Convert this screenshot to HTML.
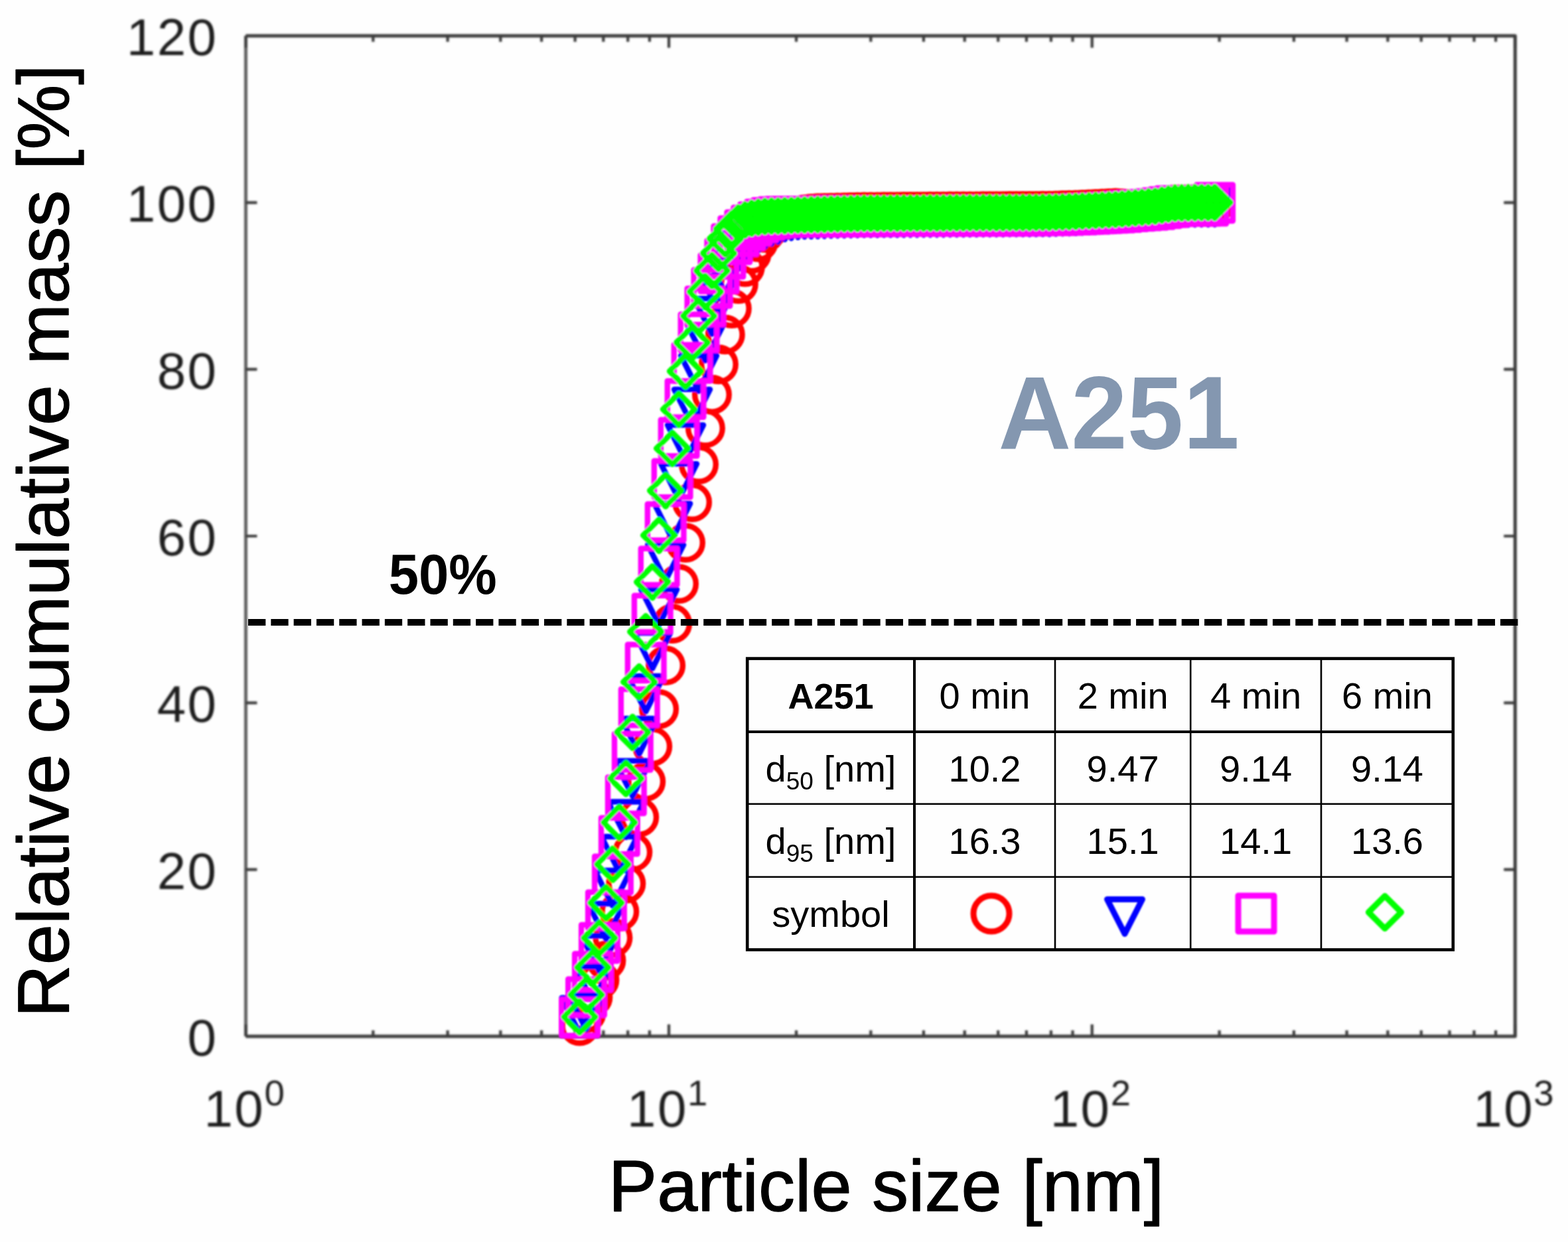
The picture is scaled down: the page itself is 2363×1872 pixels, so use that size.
<!DOCTYPE html>
<html lang="en"><head><meta charset="utf-8"><title>A251 relative cumulative mass vs particle size</title>
<style>
html,body{margin:0;padding:0;background:#fefefe;}
body{width:2363px;height:1872px;overflow:hidden;position:relative;font-family:"Liberation Sans",Arial,Helvetica,sans-serif;}
svg{position:absolute;left:0;top:0;display:block}
text{font-family:"Liberation Sans",Arial,Helvetica,sans-serif}
.tick{font-size:78px;fill:#1c1c1c}
.sup{font-size:54.5px;fill:#1c1c1c}
.axlab{font-size:110px;fill:#000;stroke:#000;stroke-width:1.3px;stroke-linejoin:round}
#tbl{position:absolute;left:1126px;top:993.2px;border-collapse:collapse;table-layout:fixed;font-size:56px;color:#000;line-height:1}
#tbl td{padding:0;text-align:center;vertical-align:middle;white-space:nowrap;overflow:hidden}
#tbl sub{font-size:37px;vertical-align:baseline;position:relative;top:12px}
#tbl svg{position:static;display:inline-block;vertical-align:middle}
</style></head><body>
<svg width="2363" height="1872" viewBox="0 0 2363 1872">
<defs><filter id="bl" x="-5%" y="-5%" width="110%" height="110%"><feGaussianBlur stdDeviation="1.4"/></filter><filter id="bm" x="-5%" y="-5%" width="110%" height="110%"><feGaussianBlur stdDeviation="0.9"/></filter><filter id="bs" filterUnits="userSpaceOnUse" x="-50" y="-50" width="100" height="100"><feGaussianBlur stdDeviation="1.0"/></filter></defs>
<rect x="0" y="0" width="2363" height="1872" fill="#fefefe"/>
<g filter="url(#bl)">
<g fill="none" stroke="#3a3a3a" stroke-width="5" stroke-linecap="butt">
<path d="M370.4 54.0H2283.3V1562.0H370.4" stroke-linejoin="round"/>
<path d="M370.4 1562.0V54.0" stroke="#5e5e5e"/>
<path d="M370.4 54.0v18M370.4 1562.0v-18M562.3 54.0v9M562.3 1562.0v-9M674.6 54.0v9M674.6 1562.0v-9M754.3 54.0v9M754.3 1562.0v-9M816.1 54.0v9M816.1 1562.0v-9M866.6 54.0v9M866.6 1562.0v-9M909.3 54.0v9M909.3 1562.0v-9M946.2 54.0v9M946.2 1562.0v-9M978.9 54.0v9M978.9 1562.0v-9M1008.0 54.0v18M1008.0 1562.0v-18M1200.0 54.0v9M1200.0 1562.0v-9M1312.3 54.0v9M1312.3 1562.0v-9M1391.9 54.0v9M1391.9 1562.0v-9M1453.7 54.0v9M1453.7 1562.0v-9M1504.2 54.0v9M1504.2 1562.0v-9M1546.9 54.0v9M1546.9 1562.0v-9M1583.9 54.0v9M1583.9 1562.0v-9M1616.5 54.0v9M1616.5 1562.0v-9M1645.7 54.0v18M1645.7 1562.0v-18M1837.6 54.0v9M1837.6 1562.0v-9M1949.9 54.0v9M1949.9 1562.0v-9M2029.6 54.0v9M2029.6 1562.0v-9M2091.4 54.0v9M2091.4 1562.0v-9M2141.8 54.0v9M2141.8 1562.0v-9M2184.5 54.0v9M2184.5 1562.0v-9M2221.5 54.0v9M2221.5 1562.0v-9M2254.1 54.0v9M2254.1 1562.0v-9M2283.3 54.0v18M2283.3 1562.0v-18M370.4 1562.0h17M2283.3 1562.0h-17M370.4 1310.7h17M2283.3 1310.7h-17M370.4 1059.3h17M2283.3 1059.3h-17M370.4 808.0h17M2283.3 808.0h-17M370.4 556.7h17M2283.3 556.7h-17M370.4 305.3h17M2283.3 305.3h-17M370.4 54.0h17M2283.3 54.0h-17" stroke-width="4.2"/>
</g>
<text class="tick" x="328.5" y="1591.0" text-anchor="end" letter-spacing="2.5">0</text>
<text class="tick" x="328.5" y="1339.7" text-anchor="end" letter-spacing="2.5">20</text>
<text class="tick" x="328.5" y="1088.3" text-anchor="end" letter-spacing="2.5">40</text>
<text class="tick" x="328.5" y="837.0" text-anchor="end" letter-spacing="2.5">60</text>
<text class="tick" x="328.5" y="585.7" text-anchor="end" letter-spacing="2.5">80</text>
<text class="tick" x="328.5" y="334.3" text-anchor="end" letter-spacing="2.5">100</text>
<text class="tick" x="328.5" y="83.0" text-anchor="end" letter-spacing="2.5">120</text>
<text class="tick" x="307.4" y="1697.5" letter-spacing="2.5">10</text>
<text class="sup" x="398.4" y="1666">0</text>
<text class="tick" x="945.0" y="1697.5" letter-spacing="2.5">10</text>
<text class="sup" x="1036.0" y="1666">1</text>
<text class="tick" x="1582.7" y="1697.5" letter-spacing="2.5">10</text>
<text class="sup" x="1673.7" y="1666">2</text>
<text class="tick" x="2220.3" y="1697.5" letter-spacing="2.5">10</text>
<text class="sup" x="2311.3" y="1666">3</text>
</g>
<g filter="url(#bm)" fill="none" stroke-linejoin="round">
<g stroke="#ff0000" stroke-width="8.4">
<circle cx="873.5" cy="1546.5" r="25.8"/><circle cx="883.5" cy="1527.0" r="25.8"/><circle cx="893.4" cy="1503.0" r="25.8"/><circle cx="903.4" cy="1477.0" r="25.8"/><circle cx="913.4" cy="1447.7" r="25.8"/><circle cx="923.4" cy="1413.5" r="25.8"/><circle cx="933.3" cy="1374.0" r="25.8"/><circle cx="943.3" cy="1331.8" r="25.8"/><circle cx="953.3" cy="1284.4" r="25.8"/><circle cx="963.2" cy="1231.7" r="25.8"/><circle cx="973.2" cy="1178.0" r="25.8"/><circle cx="983.2" cy="1125.0" r="25.8"/><circle cx="993.1" cy="1068.7" r="25.8"/><circle cx="1003.1" cy="1003.0" r="25.8"/><circle cx="1013.1" cy="940.0" r="25.8"/><circle cx="1023.0" cy="880.0" r="25.8"/><circle cx="1033.0" cy="818.0" r="25.8"/><circle cx="1043.0" cy="757.0" r="25.8"/><circle cx="1053.0" cy="700.0" r="25.8"/><circle cx="1062.9" cy="645.4" r="25.8"/><circle cx="1072.9" cy="594.8" r="25.8"/><circle cx="1082.9" cy="549.3" r="25.8"/><circle cx="1092.8" cy="504.3" r="25.8"/><circle cx="1102.8" cy="465.0" r="25.8"/><circle cx="1112.8" cy="428.0" r="25.8"/><circle cx="1122.8" cy="402.5" r="25.8"/><circle cx="1132.7" cy="382.5" r="25.8"/><circle cx="1142.7" cy="365.0" r="25.8"/><circle cx="1152.7" cy="351.0" r="25.8"/><circle cx="1162.6" cy="341.0" r="25.8"/><circle cx="1172.6" cy="335.0" r="25.8"/><circle cx="1182.6" cy="331.0" r="25.8"/><circle cx="1192.5" cy="328.0" r="25.8"/><circle cx="1202.5" cy="325.1" r="25.8"/><circle cx="1212.5" cy="323.3" r="25.8"/><circle cx="1222.5" cy="322.0" r="25.8"/><circle cx="1232.4" cy="321.3" r="25.8"/><circle cx="1242.4" cy="321.0" r="25.8"/><circle cx="1252.4" cy="320.7" r="25.8"/><circle cx="1262.3" cy="320.4" r="25.8"/><circle cx="1272.3" cy="320.2" r="25.8"/><circle cx="1282.3" cy="319.9" r="25.8"/><circle cx="1292.2" cy="319.7" r="25.8"/><circle cx="1302.2" cy="319.5" r="25.8"/><circle cx="1312.2" cy="319.5" r="25.8"/><circle cx="1322.2" cy="319.4" r="25.8"/><circle cx="1332.1" cy="319.3" r="25.8"/><circle cx="1342.1" cy="319.3" r="25.8"/><circle cx="1352.1" cy="319.2" r="25.8"/><circle cx="1362.0" cy="319.1" r="25.8"/><circle cx="1372.0" cy="319.0" r="25.8"/><circle cx="1382.0" cy="319.0" r="25.8"/><circle cx="1391.9" cy="318.9" r="25.8"/><circle cx="1401.9" cy="318.8" r="25.8"/><circle cx="1411.9" cy="318.8" r="25.8"/><circle cx="1421.8" cy="318.7" r="25.8"/><circle cx="1431.8" cy="318.6" r="25.8"/><circle cx="1441.8" cy="318.6" r="25.8"/><circle cx="1451.8" cy="318.5" r="25.8"/><circle cx="1461.7" cy="318.4" r="25.8"/><circle cx="1471.7" cy="318.4" r="25.8"/><circle cx="1481.7" cy="318.3" r="25.8"/><circle cx="1491.6" cy="318.3" r="25.8"/><circle cx="1501.6" cy="318.2" r="25.8"/><circle cx="1511.6" cy="318.2" r="25.8"/><circle cx="1521.6" cy="318.1" r="25.8"/><circle cx="1531.5" cy="318.1" r="25.8"/><circle cx="1541.5" cy="318.0" r="25.8"/><circle cx="1551.5" cy="318.0" r="25.8"/><circle cx="1561.4" cy="317.9" r="25.8"/><circle cx="1571.4" cy="317.8" r="25.8"/><circle cx="1581.4" cy="317.8" r="25.8"/><circle cx="1591.3" cy="317.4" r="25.8"/><circle cx="1601.3" cy="317.1" r="25.8"/><circle cx="1611.3" cy="316.8" r="25.8"/><circle cx="1621.2" cy="316.4" r="25.8"/><circle cx="1631.2" cy="315.9" r="25.8"/><circle cx="1641.2" cy="315.4" r="25.8"/><circle cx="1651.2" cy="314.9" r="25.8"/><circle cx="1661.1" cy="314.4" r="25.8"/><circle cx="1671.1" cy="313.9" r="25.8"/><circle cx="1681.1" cy="313.6" r="25.8"/><circle cx="1691.0" cy="314.2" r="25.8"/><circle cx="1701.0" cy="314.9" r="25.8"/><circle cx="1711.0" cy="315.4" r="25.8"/><circle cx="1721.0" cy="314.6" r="25.8"/><circle cx="1730.9" cy="313.8" r="25.8"/><circle cx="1740.9" cy="312.9" r="25.8"/><circle cx="1750.9" cy="311.3" r="25.8"/><circle cx="1760.8" cy="309.7" r="25.8"/><circle cx="1770.8" cy="308.3" r="25.8"/><circle cx="1780.8" cy="308.0" r="25.8"/><circle cx="1790.7" cy="307.7" r="25.8"/><circle cx="1800.7" cy="307.5" r="25.8"/><circle cx="1810.7" cy="307.4" r="25.8"/><circle cx="1820.7" cy="307.4" r="25.8"/><circle cx="1830.6" cy="307.3" r="25.8"/>
</g>
<g stroke="#0000ff" stroke-width="8.4">
<path d="M846.5 1504.0H900.5L873.5 1557.5Z"/><path d="M856.5 1498.4H910.5L883.5 1551.9Z"/><path d="M866.4 1456.9H920.4L893.4 1510.4Z"/><path d="M876.4 1410.5H930.4L903.4 1464.0Z"/><path d="M886.4 1362.0H940.4L913.4 1415.5Z"/><path d="M896.4 1312.0H950.4L923.4 1365.5Z"/><path d="M906.3 1261.0H960.3L933.3 1314.5Z"/><path d="M916.3 1208.5H970.3L943.3 1262.0Z"/><path d="M926.3 1146.7H980.3L953.3 1200.2Z"/><path d="M936.2 1083.0H990.2L963.2 1136.5Z"/><path d="M946.2 1019.0H1000.2L973.2 1072.5Z"/><path d="M956.2 954.0H1010.2L983.2 1007.5Z"/><path d="M966.1 888.5H1020.1L993.1 942.0Z"/><path d="M976.1 821.1H1030.1L1003.1 874.6Z"/><path d="M986.1 759.0H1040.1L1013.1 812.5Z"/><path d="M996.0 699.1H1050.0L1023.0 752.6Z"/><path d="M1006.0 640.6H1060.0L1033.0 694.1Z"/><path d="M1016.0 586.9H1070.0L1043.0 640.4Z"/><path d="M1026.0 536.0H1080.0L1053.0 589.5Z"/><path d="M1035.9 490.0H1089.9L1062.9 543.5Z"/><path d="M1045.9 450.0H1099.9L1072.9 503.5Z"/><path d="M1055.9 416.0H1109.9L1082.9 469.5Z"/><path d="M1065.8 388.0H1119.8L1092.8 441.5Z"/><path d="M1075.8 367.0H1129.8L1102.8 420.5Z"/><path d="M1085.8 352.0H1139.8L1112.8 405.5Z"/><path d="M1095.8 340.0H1149.8L1122.8 393.5Z"/><path d="M1105.7 331.0H1159.7L1132.7 384.5Z"/><path d="M1115.7 324.0H1169.7L1142.7 377.5Z"/><path d="M1125.7 318.5H1179.7L1152.7 372.0Z"/><path d="M1135.6 314.0H1189.6L1162.6 367.5Z"/><path d="M1145.6 311.0H1199.6L1172.6 364.5Z"/><path d="M1155.6 307.6H1209.6L1182.6 361.1Z"/><path d="M1165.5 305.7H1219.5L1192.5 359.2Z"/><path d="M1175.5 304.4H1229.5L1202.5 357.9Z"/><path d="M1185.5 303.6H1239.5L1212.5 357.1Z"/><path d="M1195.5 303.3H1249.5L1222.5 356.8Z"/><path d="M1205.4 303.0H1259.4L1232.4 356.5Z"/><path d="M1215.4 302.7H1269.4L1242.4 356.2Z"/><path d="M1225.4 302.3H1279.4L1252.4 355.8Z"/><path d="M1235.3 302.1H1289.3L1262.3 355.6Z"/><path d="M1245.3 301.9H1299.3L1272.3 355.4Z"/><path d="M1255.3 301.7H1309.3L1282.3 355.2Z"/><path d="M1265.2 301.5H1319.2L1292.2 355.0Z"/><path d="M1275.2 301.3H1329.2L1302.2 354.8Z"/><path d="M1285.2 301.2H1339.2L1312.2 354.7Z"/><path d="M1295.2 301.2H1349.2L1322.2 354.7Z"/><path d="M1305.1 301.1H1359.1L1332.1 354.6Z"/><path d="M1315.1 301.1H1369.1L1342.1 354.6Z"/><path d="M1325.1 301.0H1379.1L1352.1 354.5Z"/><path d="M1335.0 301.0H1389.0L1362.0 354.5Z"/><path d="M1345.0 300.9H1399.0L1372.0 354.4Z"/><path d="M1355.0 300.9H1409.0L1382.0 354.4Z"/><path d="M1364.9 300.8H1418.9L1391.9 354.3Z"/><path d="M1374.9 300.8H1428.9L1401.9 354.3Z"/><path d="M1384.9 300.7H1438.9L1411.9 354.2Z"/><path d="M1394.8 300.7H1448.8L1421.8 354.2Z"/><path d="M1404.8 300.6H1458.8L1431.8 354.1Z"/><path d="M1414.8 300.5H1468.8L1441.8 354.0Z"/><path d="M1424.8 300.5H1478.8L1451.8 354.0Z"/><path d="M1434.7 300.4H1488.7L1461.7 353.9Z"/><path d="M1444.7 300.4H1498.7L1471.7 353.9Z"/><path d="M1454.7 300.3H1508.7L1481.7 353.8Z"/><path d="M1464.6 300.3H1518.6L1491.6 353.8Z"/><path d="M1474.6 300.2H1528.6L1501.6 353.7Z"/><path d="M1484.6 300.2H1538.6L1511.6 353.7Z"/><path d="M1494.6 300.1H1548.6L1521.6 353.6Z"/><path d="M1504.5 300.1H1558.5L1531.5 353.6Z"/><path d="M1514.5 300.0H1568.5L1541.5 353.5Z"/><path d="M1524.5 300.0H1578.5L1551.5 353.5Z"/><path d="M1534.4 299.9H1588.4L1561.4 353.4Z"/><path d="M1544.4 299.8H1598.4L1571.4 353.3Z"/><path d="M1554.4 299.8H1608.4L1581.4 353.3Z"/><path d="M1564.3 299.4H1618.3L1591.3 352.9Z"/><path d="M1574.3 299.1H1628.3L1601.3 352.6Z"/><path d="M1584.3 298.8H1638.3L1611.3 352.3Z"/><path d="M1594.2 298.4H1648.2L1621.2 351.9Z"/><path d="M1604.2 297.9H1658.2L1631.2 351.4Z"/><path d="M1614.2 297.4H1668.2L1641.2 350.9Z"/><path d="M1624.2 296.9H1678.2L1651.2 350.4Z"/><path d="M1634.1 296.4H1688.1L1661.1 349.9Z"/><path d="M1644.1 295.9H1698.1L1671.1 349.4Z"/><path d="M1654.1 295.4H1708.1L1681.1 348.9Z"/><path d="M1664.0 294.6H1718.0L1691.0 348.1Z"/><path d="M1674.0 293.8H1728.0L1701.0 347.3Z"/><path d="M1684.0 293.0H1738.0L1711.0 346.5Z"/><path d="M1694.0 292.2H1748.0L1721.0 345.7Z"/><path d="M1703.9 291.4H1757.9L1730.9 344.9Z"/><path d="M1713.9 290.6H1767.9L1740.9 344.1Z"/><path d="M1723.9 289.1H1777.9L1750.9 342.6Z"/><path d="M1733.8 287.6H1787.8L1760.8 341.1Z"/><path d="M1743.8 286.2H1797.8L1770.8 339.7Z"/><path d="M1753.8 286.0H1807.8L1780.8 339.5Z"/><path d="M1763.7 285.7H1817.7L1790.7 339.2Z"/><path d="M1773.7 285.5H1827.7L1800.7 339.0Z"/><path d="M1783.7 285.4H1837.7L1810.7 338.9Z"/><path d="M1793.7 285.4H1847.7L1820.7 338.9Z"/><path d="M1803.6 285.3H1857.6L1830.6 338.8Z"/>
</g>
<g stroke="#ff00ff" stroke-width="8.4">
<rect x="846.2" y="1506.4" width="54.6" height="54.6"/><rect x="856.2" y="1475.7" width="54.6" height="54.6"/><rect x="866.1" y="1437.5" width="54.6" height="54.6"/><rect x="876.1" y="1393.9" width="54.6" height="54.6"/><rect x="886.1" y="1344.7" width="54.6" height="54.6"/><rect x="896.1" y="1290.7" width="54.6" height="54.6"/><rect x="906.0" y="1232.7" width="54.6" height="54.6"/><rect x="916.0" y="1171.4" width="54.6" height="54.6"/><rect x="926.0" y="1106.0" width="54.6" height="54.6"/><rect x="935.9" y="1038.7" width="54.6" height="54.6"/><rect x="945.9" y="971.5" width="54.6" height="54.6"/><rect x="955.9" y="897.8" width="54.6" height="54.6"/><rect x="965.8" y="826.8" width="54.6" height="54.6"/><rect x="975.8" y="759.7" width="54.6" height="54.6"/><rect x="985.8" y="694.7" width="54.6" height="54.6"/><rect x="995.8" y="632.7" width="54.6" height="54.6"/><rect x="1005.7" y="574.2" width="54.6" height="54.6"/><rect x="1015.7" y="519.7" width="54.6" height="54.6"/><rect x="1025.7" y="473.7" width="54.6" height="54.6"/><rect x="1035.6" y="434.7" width="54.6" height="54.6"/><rect x="1045.6" y="406.7" width="54.6" height="54.6"/><rect x="1055.6" y="384.7" width="54.6" height="54.6"/><rect x="1065.5" y="362.7" width="54.6" height="54.6"/><rect x="1075.5" y="340.7" width="54.6" height="54.6"/><rect x="1085.5" y="328.7" width="54.6" height="54.6"/><rect x="1095.5" y="319.7" width="54.6" height="54.6"/><rect x="1105.4" y="312.7" width="54.6" height="54.6"/><rect x="1115.4" y="307.7" width="54.6" height="54.6"/><rect x="1125.4" y="303.7" width="54.6" height="54.6"/><rect x="1135.3" y="301.2" width="54.6" height="54.6"/><rect x="1145.3" y="300.0" width="54.6" height="54.6"/><rect x="1155.3" y="299.5" width="54.6" height="54.6"/><rect x="1165.2" y="299.4" width="54.6" height="54.6"/><rect x="1175.2" y="299.3" width="54.6" height="54.6"/><rect x="1185.2" y="299.3" width="54.6" height="54.6"/><rect x="1195.2" y="299.2" width="54.6" height="54.6"/><rect x="1205.1" y="299.0" width="54.6" height="54.6"/><rect x="1215.1" y="298.9" width="54.6" height="54.6"/><rect x="1225.1" y="298.7" width="54.6" height="54.6"/><rect x="1235.0" y="298.6" width="54.6" height="54.6"/><rect x="1245.0" y="298.6" width="54.6" height="54.6"/><rect x="1255.0" y="298.6" width="54.6" height="54.6"/><rect x="1264.9" y="298.5" width="54.6" height="54.6"/><rect x="1274.9" y="298.5" width="54.6" height="54.6"/><rect x="1284.9" y="298.4" width="54.6" height="54.6"/><rect x="1294.9" y="298.4" width="54.6" height="54.6"/><rect x="1304.8" y="298.4" width="54.6" height="54.6"/><rect x="1314.8" y="298.3" width="54.6" height="54.6"/><rect x="1324.8" y="298.3" width="54.6" height="54.6"/><rect x="1334.7" y="298.2" width="54.6" height="54.6"/><rect x="1344.7" y="298.2" width="54.6" height="54.6"/><rect x="1354.7" y="298.1" width="54.6" height="54.6"/><rect x="1364.6" y="298.1" width="54.6" height="54.6"/><rect x="1374.6" y="298.1" width="54.6" height="54.6"/><rect x="1384.6" y="298.0" width="54.6" height="54.6"/><rect x="1394.5" y="298.0" width="54.6" height="54.6"/><rect x="1404.5" y="297.9" width="54.6" height="54.6"/><rect x="1414.5" y="297.9" width="54.6" height="54.6"/><rect x="1424.5" y="297.8" width="54.6" height="54.6"/><rect x="1434.4" y="297.8" width="54.6" height="54.6"/><rect x="1444.4" y="297.7" width="54.6" height="54.6"/><rect x="1454.4" y="297.7" width="54.6" height="54.6"/><rect x="1464.3" y="297.7" width="54.6" height="54.6"/><rect x="1474.3" y="297.6" width="54.6" height="54.6"/><rect x="1484.3" y="297.6" width="54.6" height="54.6"/><rect x="1494.3" y="297.5" width="54.6" height="54.6"/><rect x="1504.2" y="297.5" width="54.6" height="54.6"/><rect x="1514.2" y="297.4" width="54.6" height="54.6"/><rect x="1524.2" y="297.4" width="54.6" height="54.6"/><rect x="1534.1" y="297.4" width="54.6" height="54.6"/><rect x="1544.1" y="297.3" width="54.6" height="54.6"/><rect x="1554.1" y="297.2" width="54.6" height="54.6"/><rect x="1564.0" y="296.9" width="54.6" height="54.6"/><rect x="1574.0" y="296.6" width="54.6" height="54.6"/><rect x="1584.0" y="296.3" width="54.6" height="54.6"/><rect x="1594.0" y="295.9" width="54.6" height="54.6"/><rect x="1603.9" y="295.5" width="54.6" height="54.6"/><rect x="1613.9" y="295.0" width="54.6" height="54.6"/><rect x="1623.9" y="294.5" width="54.6" height="54.6"/><rect x="1633.8" y="294.0" width="54.6" height="54.6"/><rect x="1643.8" y="293.5" width="54.6" height="54.6"/><rect x="1653.8" y="293.0" width="54.6" height="54.6"/><rect x="1663.7" y="292.2" width="54.6" height="54.6"/><rect x="1673.7" y="291.3" width="54.6" height="54.6"/><rect x="1683.7" y="290.5" width="54.6" height="54.6"/><rect x="1693.7" y="289.7" width="54.6" height="54.6"/><rect x="1703.6" y="288.9" width="54.6" height="54.6"/><rect x="1713.6" y="288.0" width="54.6" height="54.6"/><rect x="1723.6" y="286.4" width="54.6" height="54.6"/><rect x="1733.5" y="284.9" width="54.6" height="54.6"/><rect x="1743.5" y="283.4" width="54.6" height="54.6"/><rect x="1753.5" y="283.2" width="54.6" height="54.6"/><rect x="1763.4" y="282.9" width="54.6" height="54.6"/><rect x="1773.4" y="282.7" width="54.6" height="54.6"/><rect x="1783.4" y="282.6" width="54.6" height="54.6"/><rect x="1793.4" y="282.6" width="54.6" height="54.6"/><rect x="1803.3" y="278.5" width="54.6" height="54.6"/>
</g>
<g stroke="#00ff00" stroke-width="8.4">
<path d="M873.5 1508.8L897.5 1532.8L873.5 1556.8L849.5 1532.8Z"/><path d="M883.5 1475.4L907.5 1499.4L883.5 1523.4L859.5 1499.4Z"/><path d="M893.4 1434.3L917.4 1458.3L893.4 1482.3L869.4 1458.3Z"/><path d="M903.4 1389.7L927.4 1413.7L903.4 1437.7L879.4 1413.7Z"/><path d="M913.4 1336.8L937.4 1360.8L913.4 1384.8L889.4 1360.8Z"/><path d="M923.4 1278.8L947.4 1302.8L923.4 1326.8L899.4 1302.8Z"/><path d="M933.3 1215.6L957.3 1239.6L933.3 1263.6L909.3 1239.6Z"/><path d="M943.3 1149.4L967.3 1173.4L943.3 1197.4L919.3 1173.4Z"/><path d="M953.3 1079.9L977.3 1103.9L953.3 1127.9L929.3 1103.9Z"/><path d="M963.2 1003.9L987.2 1027.9L963.2 1051.9L939.2 1027.9Z"/><path d="M973.2 928.2L997.2 952.2L973.2 976.2L949.2 952.2Z"/><path d="M983.2 853.2L1007.2 877.2L983.2 901.2L959.2 877.2Z"/><path d="M993.1 782.9L1017.1 806.9L993.1 830.9L969.1 806.9Z"/><path d="M1003.1 715.5L1027.1 739.5L1003.1 763.5L979.1 739.5Z"/><path d="M1013.1 651.9L1037.1 675.9L1013.1 699.9L989.1 675.9Z"/><path d="M1023.0 592.9L1047.0 616.9L1023.0 640.9L999.0 616.9Z"/><path d="M1033.0 535.5L1057.0 559.5L1033.0 583.5L1009.0 559.5Z"/><path d="M1043.0 492.5L1067.0 516.5L1043.0 540.5L1019.0 516.5Z"/><path d="M1053.0 452.2L1077.0 476.2L1053.0 500.2L1029.0 476.2Z"/><path d="M1062.9 415.7L1086.9 439.7L1062.9 463.7L1038.9 439.7Z"/><path d="M1072.9 384.0L1096.9 408.0L1072.9 432.0L1048.9 408.0Z"/><path d="M1082.9 358.0L1106.9 382.0L1082.9 406.0L1058.9 382.0Z"/><path d="M1092.8 336.0L1116.8 360.0L1092.8 384.0L1068.8 360.0Z"/><path d="M1102.8 321.0L1126.8 345.0L1102.8 369.0L1078.8 345.0Z"/><path d="M1112.8 312.0L1136.8 336.0L1112.8 360.0L1088.8 336.0Z"/><path d="M1122.8 307.5L1146.8 331.5L1122.8 355.5L1098.8 331.5Z"/><path d="M1132.7 305.0L1156.7 329.0L1132.7 353.0L1108.7 329.0Z"/><path d="M1142.7 303.5L1166.7 327.5L1142.7 351.5L1118.7 327.5Z"/><path d="M1152.7 302.3L1176.7 326.3L1152.7 350.3L1128.7 326.3Z"/><path d="M1162.6 301.8L1186.6 325.8L1162.6 349.8L1138.6 325.8Z"/><path d="M1172.6 301.6L1196.6 325.6L1172.6 349.6L1148.6 325.6Z"/><path d="M1182.6 301.3L1206.6 325.3L1182.6 349.3L1158.6 325.3Z"/><path d="M1192.5 300.9L1216.5 324.9L1192.5 348.9L1168.5 324.9Z"/><path d="M1202.5 300.4L1226.5 324.4L1202.5 348.4L1178.5 324.4Z"/><path d="M1212.5 300.1L1236.5 324.1L1212.5 348.1L1188.5 324.1Z"/><path d="M1222.5 299.8L1246.5 323.8L1222.5 347.8L1198.5 323.8Z"/><path d="M1232.4 299.5L1256.4 323.5L1232.4 347.5L1208.4 323.5Z"/><path d="M1242.4 299.2L1266.4 323.2L1242.4 347.2L1218.4 323.2Z"/><path d="M1252.4 298.8L1276.4 322.8L1252.4 346.8L1228.4 322.8Z"/><path d="M1262.3 298.6L1286.3 322.6L1262.3 346.6L1238.3 322.6Z"/><path d="M1272.3 298.4L1296.3 322.4L1272.3 346.4L1248.3 322.4Z"/><path d="M1282.3 298.2L1306.3 322.2L1282.3 346.2L1258.3 322.2Z"/><path d="M1292.2 298.0L1316.2 322.0L1292.2 346.0L1268.2 322.0Z"/><path d="M1302.2 297.8L1326.2 321.8L1302.2 345.8L1278.2 321.8Z"/><path d="M1312.2 297.7L1336.2 321.7L1312.2 345.7L1288.2 321.7Z"/><path d="M1322.2 297.7L1346.2 321.7L1322.2 345.7L1298.2 321.7Z"/><path d="M1332.1 297.6L1356.1 321.6L1332.1 345.6L1308.1 321.6Z"/><path d="M1342.1 297.6L1366.1 321.6L1342.1 345.6L1318.1 321.6Z"/><path d="M1352.1 297.5L1376.1 321.5L1352.1 345.5L1328.1 321.5Z"/><path d="M1362.0 297.5L1386.0 321.5L1362.0 345.5L1338.0 321.5Z"/><path d="M1372.0 297.4L1396.0 321.4L1372.0 345.4L1348.0 321.4Z"/><path d="M1382.0 297.4L1406.0 321.4L1382.0 345.4L1358.0 321.4Z"/><path d="M1391.9 297.3L1415.9 321.3L1391.9 345.3L1367.9 321.3Z"/><path d="M1401.9 297.3L1425.9 321.3L1401.9 345.3L1377.9 321.3Z"/><path d="M1411.9 297.2L1435.9 321.2L1411.9 345.2L1387.9 321.2Z"/><path d="M1421.8 297.2L1445.8 321.2L1421.8 345.2L1397.8 321.2Z"/><path d="M1431.8 297.1L1455.8 321.1L1431.8 345.1L1407.8 321.1Z"/><path d="M1441.8 297.0L1465.8 321.0L1441.8 345.0L1417.8 321.0Z"/><path d="M1451.8 297.0L1475.8 321.0L1451.8 345.0L1427.8 321.0Z"/><path d="M1461.7 296.9L1485.7 320.9L1461.7 344.9L1437.7 320.9Z"/><path d="M1471.7 296.9L1495.7 320.9L1471.7 344.9L1447.7 320.9Z"/><path d="M1481.7 296.8L1505.7 320.8L1481.7 344.8L1457.7 320.8Z"/><path d="M1491.6 296.8L1515.6 320.8L1491.6 344.8L1467.6 320.8Z"/><path d="M1501.6 296.7L1525.6 320.7L1501.6 344.7L1477.6 320.7Z"/><path d="M1511.6 296.7L1535.6 320.7L1511.6 344.7L1487.6 320.7Z"/><path d="M1521.6 296.6L1545.6 320.6L1521.6 344.6L1497.6 320.6Z"/><path d="M1531.5 296.6L1555.5 320.6L1531.5 344.6L1507.5 320.6Z"/><path d="M1541.5 296.5L1565.5 320.5L1541.5 344.5L1517.5 320.5Z"/><path d="M1551.5 296.5L1575.5 320.5L1551.5 344.5L1527.5 320.5Z"/><path d="M1561.4 296.4L1585.4 320.4L1561.4 344.4L1537.4 320.4Z"/><path d="M1571.4 296.3L1595.4 320.3L1571.4 344.3L1547.4 320.3Z"/><path d="M1581.4 296.3L1605.4 320.3L1581.4 344.3L1557.4 320.3Z"/><path d="M1591.3 295.9L1615.3 319.9L1591.3 343.9L1567.3 319.9Z"/><path d="M1601.3 295.6L1625.3 319.6L1601.3 343.6L1577.3 319.6Z"/><path d="M1611.3 295.3L1635.3 319.3L1611.3 343.3L1587.3 319.3Z"/><path d="M1621.2 294.9L1645.2 318.9L1621.2 342.9L1597.2 318.9Z"/><path d="M1631.2 294.4L1655.2 318.4L1631.2 342.4L1607.2 318.4Z"/><path d="M1641.2 293.9L1665.2 317.9L1641.2 341.9L1617.2 317.9Z"/><path d="M1651.2 293.4L1675.2 317.4L1651.2 341.4L1627.2 317.4Z"/><path d="M1661.1 292.9L1685.1 316.9L1661.1 340.9L1637.1 316.9Z"/><path d="M1671.1 292.4L1695.1 316.4L1671.1 340.4L1647.1 316.4Z"/><path d="M1681.1 291.9L1705.1 315.9L1681.1 339.9L1657.1 315.9Z"/><path d="M1691.0 291.1L1715.0 315.1L1691.0 339.1L1667.0 315.1Z"/><path d="M1701.0 290.2L1725.0 314.2L1701.0 338.2L1677.0 314.2Z"/><path d="M1711.0 289.4L1735.0 313.4L1711.0 337.4L1687.0 313.4Z"/><path d="M1721.0 288.6L1745.0 312.6L1721.0 336.6L1697.0 312.6Z"/><path d="M1730.9 287.8L1754.9 311.8L1730.9 335.8L1706.9 311.8Z"/><path d="M1740.9 286.9L1764.9 310.9L1740.9 334.9L1716.9 310.9Z"/><path d="M1750.9 285.3L1774.9 309.3L1750.9 333.3L1726.9 309.3Z"/><path d="M1760.8 283.7L1784.8 307.7L1760.8 331.7L1736.8 307.7Z"/><path d="M1770.8 282.3L1794.8 306.3L1770.8 330.3L1746.8 306.3Z"/><path d="M1780.8 282.0L1804.8 306.0L1780.8 330.0L1756.8 306.0Z"/><path d="M1790.7 281.7L1814.7 305.7L1790.7 329.7L1766.7 305.7Z"/><path d="M1800.7 281.5L1824.7 305.5L1800.7 329.5L1776.7 305.5Z"/><path d="M1810.7 281.4L1834.7 305.4L1810.7 329.4L1786.7 305.4Z"/><path d="M1820.7 281.4L1844.7 305.4L1820.7 329.4L1796.7 305.4Z"/><path d="M1830.6 281.3L1854.6 305.3L1830.6 329.3L1806.6 305.3Z"/>
</g>
</g>
<text class="axlab" transform="translate(1335.5 1824.5)" text-anchor="middle">Particle size [nm]</text>
<text class="axlab" transform="translate(102.5 815.5) rotate(-90)" text-anchor="middle">Relative cumulative mass [%]</text>
<text transform="translate(667.2 895.2) scale(1 1.045)" text-anchor="middle" font-size="81.5" font-weight="bold" fill="#000">50%</text>
<path d="M374 938H2288" stroke="#000" stroke-width="10" stroke-dasharray="26.3 8.01" fill="none"/>
<text transform="translate(1504.5 675.7) scale(1 1.03)" text-anchor="start" font-size="152" font-weight="bold" fill="#8497b0">A251</text>
<g fill="none" stroke="#000">
<rect x="1126.2" y="992.6" width="1063.6" height="438.9" fill="#fefefe" stroke-width="4.6"/>
<path d="M1378 992.6V1431.5M1126.2 1103H2189.8" stroke-width="4"/>
<path d="M1590 992.6V1431.5M1794.2 992.6V1431.5M1991 992.6V1431.5M1126.2 1211.7H2189.8M1126.2 1321.8H2189.8" stroke-width="2.6"/>
</g>
</svg>
<table id="tbl"><colgroup><col style="width:252.0px"><col style="width:212.0px"><col style="width:204.2px"><col style="width:196.8px"><col style="width:199.0px"></colgroup>
<tr style="height:111.0px"><td><b style="font-size:54px">A251</b></td><td>0 min</td><td>2 min</td><td>4 min</td><td>6 min</td></tr>
<tr style="height:108.7px"><td>d<sub>50</sub> [nm]</td><td>10.2</td><td>9.47</td><td>9.14</td><td>9.14</td></tr>
<tr style="height:110.1px"><td>d<sub>95</sub> [nm]</td><td>16.3</td><td>15.1</td><td>14.1</td><td>13.6</td></tr>
<tr style="height:109.7px"><td>symbol</td><td><svg width="100" height="100" viewBox="-50 -50 100 100" style="position:relative;left:9.8px;top:-0.9px"><g fill="none" stroke-width="9" filter="url(#bs)" stroke="#ff0000"><circle cx="0" cy="0" r="27"/></g></svg></td><td><svg width="100" height="100" viewBox="-50 -50 100 100" style="position:relative;left:3.0px;top:-0.3px"><g fill="none" stroke-width="9" filter="url(#bs)" stroke="#0000ff" stroke-linejoin="round"><path d="M-26.5 -22.5H26.5L0 29.5Z"/></g></svg></td><td><svg width="100" height="100" viewBox="-50 -50 100 100" style="position:relative;left:0.3px;top:-0.8px"><g fill="none" stroke-width="9" filter="url(#bs)" stroke="#ff00ff" stroke-linejoin="round"><rect x="-27" y="-27" width="54" height="54"/></g></svg></td><td><svg width="100" height="100" viewBox="-50 -50 100 100" style="position:relative;left:-3.6px;top:-2.6px"><g fill="none" stroke-width="9" filter="url(#bs)" stroke="#00ff00" stroke-linejoin="round" stroke-width="8.6"><path d="M0 -24.6L24.6 0L0 24.6L-24.6 0Z"/></g></svg></td></tr>
</table>
</body></html>
